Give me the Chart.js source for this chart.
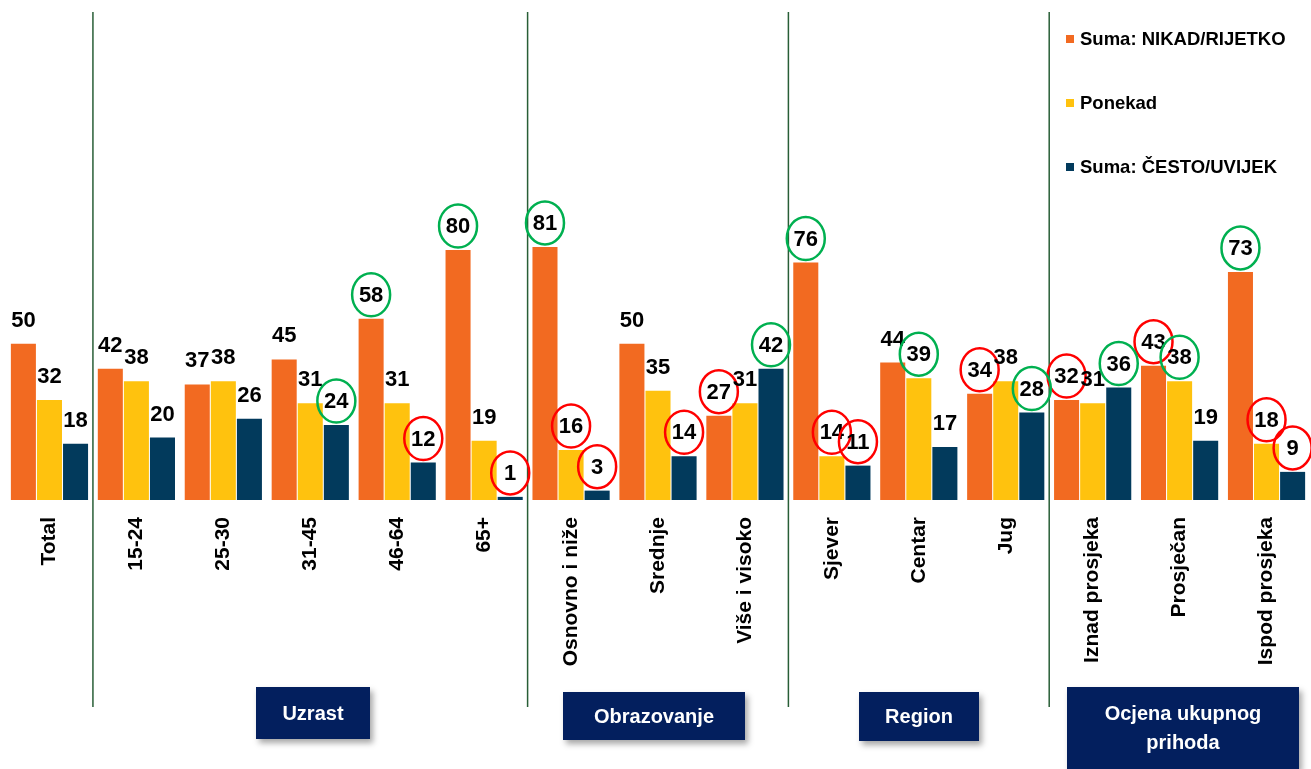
<!DOCTYPE html>
<html lang="hr">
<head>
<meta charset="utf-8">
<title>Učestalost po skupinama</title>
<script src="https://cdn.jsdelivr.net/npm/chart.js@4.4.1/dist/chart.umd.min.js"></script>
<style>
  html, body { margin:0; padding:0; background:#fff; overflow:hidden; }
  #wrap { position:relative; width:1311px; height:769px; }
  #chart { position:absolute; left:0; top:0; }
  .grp {
    position:absolute; background:#031F5E; color:#fff;
    font:bold 20px "Liberation Sans", Arial, sans-serif;
    display:flex; align-items:center; justify-content:center; text-align:center;
    line-height:29px; box-shadow:3px 4px 6px rgba(0,0,0,0.35);
  }
</style>
</head>
<body>
<div id="wrap">
  <canvas id="chart" width="1311" height="769"></canvas>
  <div class="grp" style="left:256px; top:687px; width:114px; height:52px;">Uzrast</div>
  <div class="grp" style="left:563px; top:692px; width:182px; height:48px;">Obrazovanje</div>
  <div class="grp" style="left:859px; top:692px; width:120px; height:49px;">Region</div>
  <div class="grp" style="left:1067px; top:687px; width:232px; height:82px;">Ocjena ukupnog<br>prihoda</div>
</div>
<script>
const FONT = '"Liberation Sans", Arial, sans-serif';

const categories = ['Total', '15-24', '25-30', '31-45', '46-64', '65+',
  'Osnovno i niže', 'Srednje', 'Više i visoko', 'Sjever', 'Centar', 'Jug',
  'Iznad prosjeka', 'Prosječan', 'Ispod prosjeka'];
const nikadRijetko = [50, 42, 37, 45, 58, 80, 81, 50, 27, 76, 44, 34, 32, 43, 73];
const ponekad      = [32, 38, 38, 31, 31, 19, 16, 35, 31, 14, 39, 38, 31, 38, 18];
const cestoUvijek  = [18, 20, 26, 24, 12,  1,  3, 14, 42, 11, 17, 28, 36, 19,  9];

// circled values: g = green, r = red
const markNikad   = ['', '', '', '', 'g', 'g', 'g', '', 'r', 'g', '', 'r', 'r', 'r', 'g'];
const markPonekad = ['', '', '', '', '', '', 'r', '', '', 'r', 'g', '', '', 'g', 'r'];
const markCesto   = ['', '', '', 'g', 'r', 'r', 'r', 'r', 'g', 'r', '', 'g', 'g', '', 'r'];

// first category of each group after "Total"
const groupStarts = [1, 6, 9, 12];

const overlay = {
  id: 'overlay',
  afterDraw(chart) {
    const { ctx, scales: { x } } = chart;
    ctx.save();

    // group separators
    ctx.strokeStyle = '#285E36'; ctx.lineWidth = 1.5;
    groupStarts.forEach(i => {
      const px = (x.getPixelForValue(i - 1) + x.getPixelForValue(i)) / 2;
      ctx.beginPath(); ctx.moveTo(px, 12); ctx.lineTo(px, 707); ctx.stroke();
    });

    // value labels + circles
    ctx.font = 'bold 22px ' + FONT;
    ctx.textAlign = 'center'; ctx.textBaseline = 'middle';
    chart.data.datasets.forEach((ds, di) => {
      chart.getDatasetMeta(di).data.forEach((bar, j) => {
        const cx = bar.x, cy = bar.y - 24;
        ctx.fillStyle = '#000';
        ctx.fillText(ds.data[j], cx, cy + 1);
        const m = ds.marks[j];
        if (m) {
          ctx.strokeStyle = m === 'g' ? '#00B050' : '#FF0000';
          ctx.lineWidth = 2.5;
          ctx.beginPath(); ctx.ellipse(cx, cy, 19, 21.5, 0, 0, Math.PI * 2); ctx.stroke();
        }
      });
    });

    // legend
    ctx.font = 'bold 18.5px ' + FONT;
    ctx.textAlign = 'left';
    chart.data.datasets.forEach((ds, di) => {
      const y = 39 + di * 64;
      ctx.fillStyle = ds.backgroundColor;
      ctx.fillRect(1066, y - 4, 8, 8);
      ctx.fillStyle = '#000';
      ctx.fillText(ds.label, 1080, y + 1);
    });
    ctx.restore();
  }
};

new Chart(document.getElementById('chart').getContext('2d'), {
  type: 'bar',
  data: {
    labels: categories,
    datasets: [
      { label: 'Suma: NIKAD/RIJETKO', data: nikadRijetko, backgroundColor: '#F26A21', marks: markNikad },
      { label: 'Ponekad', data: ponekad, backgroundColor: '#FFC20E', marks: markPonekad },
      { label: 'Suma: ČESTO/UVIJEK', data: cestoUvijek, backgroundColor: '#023A5C', marks: markCesto }
    ]
  },
  options: {
    responsive: false, animation: false,
    layout: { padding: { left: 6, right: 1, top: 0, bottom: 0 } },
    datasets: { bar: { categoryPercentage: 0.9, barPercentage: 0.96 } },
    plugins: { legend: { display: false }, tooltip: { enabled: false } },
    scales: {
      x: {
        grid: { display: false }, border: { display: false },
        ticks: {
          minRotation: 90, maxRotation: 90, autoSkip: false, padding: 9,
          color: '#000', font: { family: FONT, size: 21, weight: 'bold' }
        },
        afterFit(s) { s.height = 269; }
      },
      y: { display: false, min: 0, max: 160 }
    }
  },
  plugins: [overlay]
});
</script>
</body>
</html>
